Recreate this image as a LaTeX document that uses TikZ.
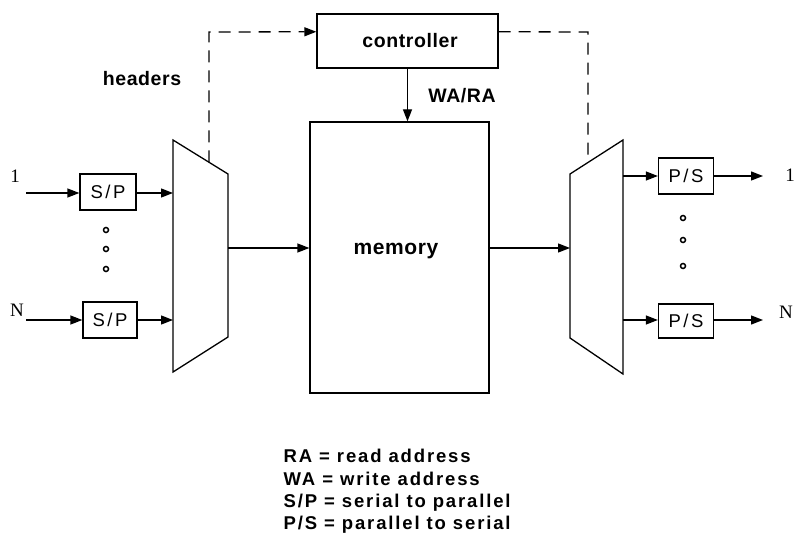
\documentclass[tikz,border=0pt]{standalone}
\usepackage{fontspec}
\setmainfont{Liberation Sans}
\newfontfamily\serifnum{Liberation Serif}
\usetikzlibrary{arrows.meta,calc}
\begin{document}
\begin{tikzpicture}[x=1pt,y=-1pt,
  line width=1.3pt,
  arr/.style={-{Triangle[length=12pt,width=9pt]}},
  dsh/.style={dash pattern=on 12pt off 8pt},
  blk/.style={draw, rectangle, inner sep=0pt},
  lbl/.style={inner sep=0pt, font={\fontsize{19.5}{21}\selectfont\bfseries\addfontfeatures{LetterSpace=3}}},
  memlbl/.style={inner sep=0pt, font={\fontsize{21}{23}\selectfont\bfseries\addfontfeatures{LetterSpace=3}}},
  leg/.style={inner sep=0pt, anchor=base west, font={\fontsize{18.5}{20}\selectfont\bfseries\addfontfeatures{LetterSpace=10}}},
  boxtxt/.style={font={\fontsize{18.5}{20}\selectfont\addfontfeatures{LetterSpace=14}}},
  num/.style={inner sep=0pt, font={\fontsize{19}{21}\selectfont\serifnum}},
  dotn/.style={circle, draw, line width=1.5pt, inner sep=0pt, minimum size=5pt}
]
\useasboundingbox (0,0) rectangle (797,537);

% trapezoids
\coordinate (LT1) at (173,140);
\coordinate (LT2) at (228,174);
\coordinate (LT3) at (228,337);
\coordinate (LT4) at (173,372);
\draw (LT1) -- (LT2) -- (LT3) -- (LT4) -- cycle;
\coordinate (RT1) at (570,174);
\coordinate (RT2) at (623,140);
\coordinate (RT3) at (623,374);
\coordinate (RT4) at (570,338);
\draw (RT1) -- (RT2) -- (RT3) -- (RT4) -- cycle;

% main blocks
\node[blk, minimum width=181pt, minimum height=54pt] (ctrl) at (407.5,41) {};
\node[lbl] (ctrltxt) at (410,41) {controller};
\node[blk, minimum width=179pt, minimum height=271pt] (mem) at (399.5,257.5) {};
\node[memlbl] (memtxt) at (396,251) {memory};

% S/P and P/S boxes
\node[blk, boxtxt, minimum width=56pt, minimum height=36pt] (sp1) at (108,192) {S/P};
\node[blk, boxtxt, minimum width=54pt, minimum height=36pt] (sp2) at (110,320) {S/P};
\node[blk, boxtxt, minimum width=55pt, minimum height=36pt] (ps1) at (686,176) {P/S};
\node[blk, boxtxt, minimum width=55pt, minimum height=34pt] (ps2) at (686,321) {P/S};

% port labels
\node[num] (in1) at (15,176) {1};
\node[num] (inN) at (17,310) {N};
\node[num] (out1) at (790,175) {1};
\node[num] (outN) at (786,312) {N};

% input/output ends
\coordinate (i1) at (26,193);
\coordinate (iN) at (26,320);
\coordinate (l1) at (173,193);
\coordinate (lN) at (173,320);
\coordinate (lout) at (228,248);
\coordinate (rin) at (570,248);
\coordinate (r1) at (623,176);
\coordinate (rN) at (623,320);
\coordinate (o1) at (763,176);
\coordinate (oN) at (763,320);

\draw[arr] (i1) -- (sp1.west |- i1);
\draw[arr] (sp1.east |- i1) -- (l1);
\draw[arr] (iN) -- (sp2.west |- iN);
\draw[arr] (sp2.east |- iN) -- (lN);
\draw[arr] (lout) -- (mem.west |- lout);
\draw[arr] (mem.east |- rin) -- (rin);
\draw[arr] (r1) -- (ps1.west |- r1);
\draw[arr] (ps1.east |- r1) -- (o1);
\draw[arr] (rN) -- (ps2.west |- rN);
\draw[arr] (ps2.east |- rN) -- (oN);

% controller connections
\coordinate (hdst) at (209,162.3);
\coordinate (hcorner) at (209,32);
\coordinate (ctrlW) at ($(ctrl.north west)!0.333!(ctrl.south west)$);
\coordinate (ctrlE) at ($(ctrl.north east)!0.333!(ctrl.south east)$);
\coordinate (rcorner) at (588,32);
\coordinate (rdst) at (588,162.5);
\draw[dsh, arr] (hdst) -- (hcorner) -- (ctrlW);
\draw[dsh] (ctrlE) -- (rcorner) -- (rdst);
\draw[arr] (ctrl.south) -- (ctrl.south |- mem.north);
\node[lbl] (wara) at (462,96) {WA/RA};
\node[lbl] (hdr) at (142,79) {headers};

% dots
\node[dotn] (dl1) at (106,230) {};
\node[dotn] (dl2) at (106,249) {};
\node[dotn] (dl3) at (106,269) {};
\node[dotn] (dr1) at (683,218) {};
\node[dotn] (dr2) at (683,240) {};
\node[dotn] (dr3) at (683,266) {};

% legend
\node[leg] (leg1) at (283,462) {RA = read address};
\node[leg] (leg2) at (283,485) {WA = write address};
\node[leg] (leg3) at (283,507) {S/P = serial to parallel};
\node[leg] (leg4) at (283,529) {P/S = parallel to serial};
\end{tikzpicture}
\end{document}
